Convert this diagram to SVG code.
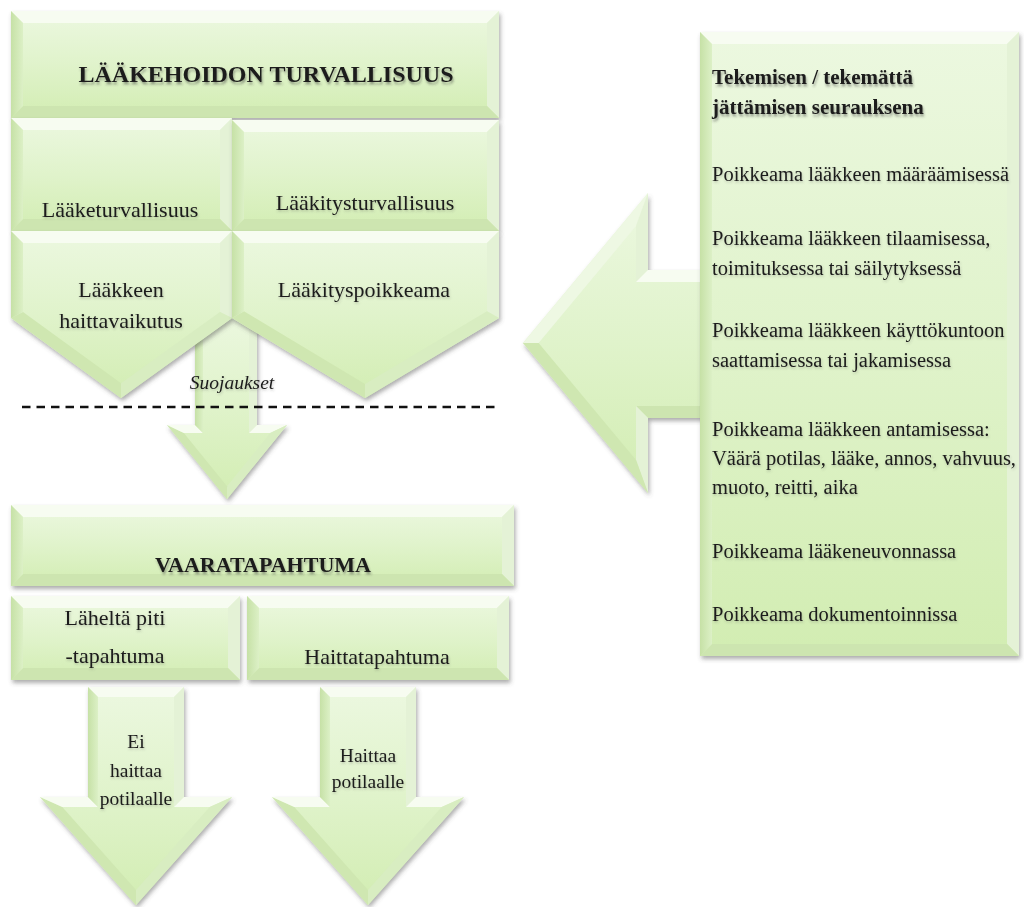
<svg xmlns="http://www.w3.org/2000/svg" xmlns:xlink="http://www.w3.org/1999/xlink" width="1024" height="907" viewBox="0 0 1024 907">
  <style>
    .face { fill: url(#gFace); filter: url(#shadow); }
    .ft { fill: #f7fcf1; }
    .ful { fill: #eef8e3; }
    .fl { fill: url(#gLeft); }
    .fr { fill: #e4f2d6; }
    .fb { fill: #cde5b0; }
    .fdl { fill: #cfe7b1; }
    .fdr { fill: #d8edc1; }
    .t { font-family: "Liberation Serif", "Times New Roman", serif; fill: #1a1a1a; filter: url(#tshadow); }
    .c { text-anchor: middle; }
    .h { font-weight: bold; filter: url(#hshadow); }
    .s22 { font-size: 22px; }
    .s20 { font-size: 20.5px; }
    .s19 { font-size: 19.5px; }
    .dash { stroke: #111; stroke-width: 2.5; stroke-dasharray: 8.5 6; fill: none; }
  </style>
  <defs>
    <linearGradient id="gFace" x1="0" y1="0" x2="0" y2="1">
      <stop offset="0" stop-color="#ecf8e0"/>
      <stop offset="0.5" stop-color="#e0f3cb"/>
      <stop offset="1" stop-color="#d2edb2"/>
    </linearGradient>
    <linearGradient id="gLeft" x1="0" y1="0" x2="1" y2="0">
      <stop offset="0" stop-color="#c6e1a6"/>
      <stop offset="1" stop-color="#dcf0c6"/>
    </linearGradient>
    <filter id="shadow" x="-10%" y="-10%" width="120%" height="125%">
      <feDropShadow dx="1.5" dy="3" stdDeviation="2" flood-color="#4a4a4a" flood-opacity="0.45"/>
    </filter>
    <filter id="hshadow" x="-5%" y="-30%" width="110%" height="170%">
      <feDropShadow dx="1" dy="2.5" stdDeviation="1.3" flood-color="#333" flood-opacity="0.45"/>
    </filter>
    <filter id="tshadow" x="-5%" y="-30%" width="110%" height="170%">
      <feDropShadow dx="0.6" dy="1.5" stdDeviation="0.9" flood-color="#444" flood-opacity="0.3"/>
    </filter>
    <!-- bevelled down arrow used below the two event boxes -->
    <g id="downArrowShape">
      <polygon class="face" points="88,687 184,687 184,797 232,797 136,905 40,797 88,797"/>
      <polygon class="ft" points="88,687 184,687 174,697 98,697"/>
      <polygon class="fr" points="184,687 184,797 174,807 174,697"/>
      <polygon class="ft" points="184,797 232,797 209.7,807 174,807"/>
      <polygon class="fdr" points="232,797 136,905 136,890 209.7,807"/>
      <polygon class="fdl" points="136,905 40,797 62.3,807 136,890"/>
      <polygon class="ft" points="40,797 88,797 98,807 62.3,807"/>
      <polygon class="fl" points="88,797 88,687 98,697 98,807"/>
    </g>
  </defs>

  <rect width="1024" height="907" fill="#ffffff"/>

  <g id="connectors">
    <!-- block arrow through the safeguards -->
    <g id="arrow-safeguards">
      <polygon class="face" points="195,310 257,310 257,425 287,425 227,499 167,425 195,425"/>
      <polygon class="ft" points="195,310 257,310 249,318 203,318"/>
      <polygon class="fr" points="257,310 257,425 249,433 249,318"/>
      <polygon class="ft" points="257,425 287,425 270.2,433 249,433"/>
      <polygon class="fdr" points="287,425 227,499 227,486.3 270.2,433"/>
      <polygon class="fdl" points="227,499 167,425 183.8,433 227,486.3"/>
      <polygon class="ft" points="167,425 195,425 203,433 183.8,433"/>
      <polygon class="fl" points="195,425 195,310 203,318 203,433"/>
    </g>
    <line class="dash" x1="22" y1="407" x2="497" y2="407"/>
    <text class="t c" x="232" y="389" font-size="19.5" font-style="italic">Suojaukset</text>
    <!-- large arrow from the deviation list -->
    <g id="arrow-deviations">
      <polygon class="face" points="523,343 648,193 648,270 712,270 712,418 648,418 648,493"/>
      <polygon class="ful" points="523,343 648,193 636,226.1 538.6,343"/>
      <polygon class="fr" points="648,193 648,270 636,282 636,226.1"/>
      <polygon class="ft" points="648,270 712,270 712,282 636,282"/>
      <polygon class="fb" points="712,418 648,418 636,406 712,406"/>
      <polygon class="fr" points="648,418 648,493 636,459.9 636,406"/>
      <polygon class="fdl" points="648,493 523,343 538.6,343 636,459.9"/>
    </g>
  </g>

  <g id="node-laakehoidon-turvallisuus">
    <rect class="face" x="11" y="11" width="488" height="107"/>
    <polygon class="ft" points="11,11 499,11 487,23 23,23"/>
    <polygon class="fr" points="499,11 499,118 487,106 487,23"/>
    <polygon class="fb" points="11,118 499,118 487,106 23,106"/>
    <polygon class="fl" points="11,11 23,23 23,106 11,118"/>
    <text class="t c h" x="266" y="82" font-size="24">LÄÄKEHOIDON TURVALLISUUS</text>
  </g>

  <g id="node-laaketurvallisuus">
    <rect class="face" x="11" y="118" width="221" height="113"/>
    <polygon class="ft" points="11,118 232,118 220,130 23,130"/>
    <polygon class="fr" points="232,118 232,231 220,219 220,130"/>
    <polygon class="fb" points="11,231 232,231 220,219 23,219"/>
    <polygon class="fl" points="11,118 23,130 23,219 11,231"/>
    <text class="t c s22" x="120" y="217">Lääketurvallisuus</text>
  </g>

  <g id="node-laakitysturvallisuus">
    <rect class="face" x="232" y="120" width="267" height="111"/>
    <polygon class="ft" points="232,120 499,120 487,132 244,132"/>
    <polygon class="fr" points="499,120 499,231 487,219 487,132"/>
    <polygon class="fb" points="232,231 499,231 487,219 244,219"/>
    <polygon class="fl" points="232,120 244,132 244,219 232,231"/>
    <text class="t c s22" x="365" y="210">Lääkitysturvallisuus</text>
  </g>

  <g id="node-laakkeen-haittavaikutus">
    <polygon class="face" points="11,231 232,231 232,318 121,398 11,318"/>
    <polygon class="ft" points="11,231 232,231 220,243 23,243"/>
    <polygon class="fr" points="232,231 232,318 220,311.9 220,243"/>
    <polygon class="fdr" points="232,318 121,398 121,383.2 220,311.9"/>
    <polygon class="fdl" points="121,398 11,318 23,311.9 121,383.2"/>
    <polygon class="fl" points="11,318 11,231 23,243 23,311.9"/>
    <text class="t c s22" x="121" y="297">Lääkkeen</text>
    <text class="t c s22" x="121" y="328">haittavaikutus</text>
  </g>

  <g id="node-laakityspoikkeama">
    <polygon class="face" points="232,231 499,231 499,318 365,398 232,318"/>
    <polygon class="ft" points="232,231 499,231 487,243 244,243"/>
    <polygon class="fr" points="499,231 499,318 487,311.2 487,243"/>
    <polygon class="fdr" points="499,318 365,398 365,384 487,311.2"/>
    <polygon class="fdl" points="365,398 232,318 244,311.2 365,384"/>
    <polygon class="fl" points="232,318 232,231 244,243 244,311.2"/>
    <text class="t c s22" x="364" y="297">Lääkityspoikkeama</text>
  </g>

  <g id="node-vaaratapahtuma">
    <rect class="face" x="11" y="505" width="503" height="81"/>
    <polygon class="ft" points="11,505 514,505 502,517 23,517"/>
    <polygon class="fr" points="514,505 514,586 502,574 502,517"/>
    <polygon class="fb" points="11,586 514,586 502,574 23,574"/>
    <polygon class="fl" points="11,505 23,517 23,574 11,586"/>
    <text class="t c h" x="263" y="572" font-size="22">VAARATAPAHTUMA</text>
  </g>

  <g id="node-lahelta-piti">
    <rect class="face" x="11" y="596" width="229" height="84"/>
    <polygon class="ft" points="11,596 240,596 228,608 23,608"/>
    <polygon class="fr" points="240,596 240,680 228,668 228,608"/>
    <polygon class="fb" points="11,680 240,680 228,668 23,668"/>
    <polygon class="fl" points="11,596 23,608 23,668 11,680"/>
    <text class="t c s22" x="115" y="625">Läheltä piti</text>
    <text class="t c s22" x="115" y="663">-tapahtuma</text>
  </g>

  <g id="node-haittatapahtuma">
    <rect class="face" x="247" y="596" width="262" height="84"/>
    <polygon class="ft" points="247,596 509,596 497,608 259,608"/>
    <polygon class="fr" points="509,596 509,680 497,668 497,608"/>
    <polygon class="fb" points="247,680 509,680 497,668 259,668"/>
    <polygon class="fl" points="247,596 259,608 259,668 247,680"/>
    <text class="t c s22" x="377" y="664">Haittatapahtuma</text>
  </g>

  <g id="node-ei-haittaa">
    <use xlink:href="#downArrowShape" href="#downArrowShape"/>
    <text class="t c s19" x="136" y="748">Ei</text>
    <text class="t c s19" x="136" y="777">haittaa</text>
    <text class="t c s19" x="136" y="805">potilaalle</text>
  </g>

  <g id="node-haittaa">
    <use xlink:href="#downArrowShape" href="#downArrowShape" transform="translate(232,0)"/>
    <text class="t c s19" x="368" y="762">Haittaa</text>
    <text class="t c s19" x="368" y="788">potilaalle</text>
  </g>

  <g id="node-poikkeamat">
    <rect class="face" x="700" y="32" width="319" height="624"/>
    <polygon class="ft" points="700,32 1019,32 1007,44 712,44"/>
    <polygon class="fr" points="1019,32 1019,656 1007,644 1007,44"/>
    <polygon class="fb" points="700,656 1019,656 1007,644 712,644"/>
    <polygon class="fl" points="700,32 712,44 712,644 700,656"/>
    <text class="t h" x="712" y="84" font-size="21">Tekemisen / tekemättä</text>
    <text class="t h" x="712" y="114" font-size="21">jättämisen seurauksena</text>
    <text class="t s20" x="712" y="181">Poikkeama lääkkeen määräämisessä</text>
    <text class="t s20" x="712" y="245">Poikkeama lääkkeen tilaamisessa,</text>
    <text class="t s20" x="712" y="275">toimituksessa tai säilytyksessä</text>
    <text class="t s20" x="712" y="337">Poikkeama lääkkeen käyttökuntoon</text>
    <text class="t s20" x="712" y="367">saattamisessa tai jakamisessa</text>
    <text class="t s20" x="712" y="436">Poikkeama lääkkeen antamisessa:</text>
    <text class="t s20" x="712" y="465">Väärä potilas, lääke, annos, vahvuus,</text>
    <text class="t s20" x="712" y="494">muoto, reitti, aika</text>
    <text class="t s20" x="712" y="558">Poikkeama lääkeneuvonnassa</text>
    <text class="t s20" x="712" y="621">Poikkeama dokumentoinnissa</text>
  </g>
</svg>
